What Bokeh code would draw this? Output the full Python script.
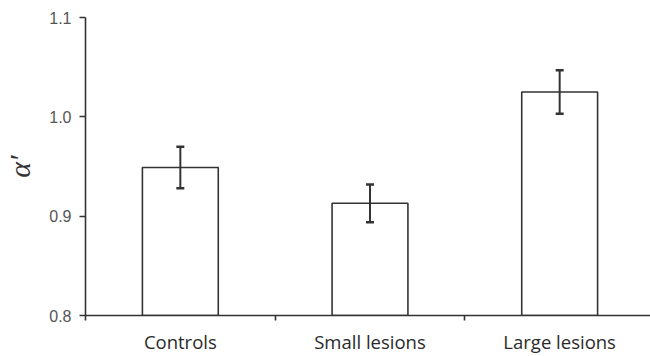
from bokeh.plotting import figure
from bokeh.models import ColumnDataSource, FixedTicker, Range1d, Whisker, TeeHead
from bokeh.embed import file_html
from bokeh.resources import INLINE

categories = ["Controls", "Small lesions", "Large lesions"]
means = [0.949, 0.913, 1.025]
errors = [0.021, 0.019, 0.022]
y_ticks = [0.8, 0.9, 1.0, 1.1]

xs = [i + 0.5 for i in range(len(categories))]
src = ColumnDataSource(dict(
    x=xs, top=means,
    upper=[m + e for m, e in zip(means, errors)],
    lower=[m - e for m, e in zip(means, errors)],
))

p = figure(width=650, height=356, output_backend="svg", toolbar_location=None,
           x_range=Range1d(0, 566 / 190), y_range=Range1d(0.8, 1.1),
           min_border_left=84, min_border_right=0, min_border_top=17, min_border_bottom=36)
p.outline_line_color = None
p.xgrid.visible = False
p.ygrid.visible = False
p.background_fill_color = "white"
p.border_fill_color = "white"

line_col = "#333333"
p.vbar(x="x", top="top", bottom=0.8, width=0.4, source=src,
       fill_color="white", line_color=line_col, line_width=1.6)

w = Whisker(base="x", upper="upper", lower="lower", source=src, level="overlay",
            line_color=line_col, line_width=2,
            upper_head=TeeHead(size=8, line_color=line_col, line_width=2.5),
            lower_head=TeeHead(size=8, line_color=line_col, line_width=2.5))
p.add_layout(w)

xa = p.xaxis[0]
xa.ticker = FixedTicker(ticks=xs, minor_ticks=[0, 1, 2, 3])
xa.major_label_overrides = {x: c for x, c in zip(xs, categories)}
xa.major_tick_out = 0
xa.major_tick_in = 0
xa.minor_tick_out = 5
xa.minor_tick_in = 0
xa.axis_line_color = line_col
xa.axis_line_width = 1.6
xa.minor_tick_line_color = line_col
xa.minor_tick_line_width = 1.6
xa.major_label_text_font = "Open Sans"
xa.major_label_text_font_size = "18.5px"
xa.major_label_text_color = "#2a2a2a"
xa.major_label_standoff = 8

ya = p.yaxis[0]
ya.ticker = FixedTicker(ticks=y_ticks, minor_ticks=[])
ya.major_label_overrides = {t: f"{t:.1f}" for t in y_ticks}
ya.major_tick_out = 6
ya.major_tick_in = 0
ya.minor_tick_out = 0
ya.minor_tick_in = 0
ya.axis_line_color = line_col
ya.axis_line_width = 1.6
ya.major_tick_line_color = line_col
ya.major_tick_line_width = 1.6
ya.major_label_text_font = "Liberation Sans"
ya.major_label_text_font_size = "16px"
ya.major_label_text_color = "#555555"
ya.major_label_standoff = 8
ya.axis_label = "α′"
ya.axis_label_text_font = "Liberation Serif"
ya.axis_label_text_font_style = "italic"
ya.axis_label_text_font_size = "30px"
ya.axis_label_text_color = "#333333"
ya.axis_label_standoff = 10

open("out.html", "w").write(file_html(p, INLINE))
